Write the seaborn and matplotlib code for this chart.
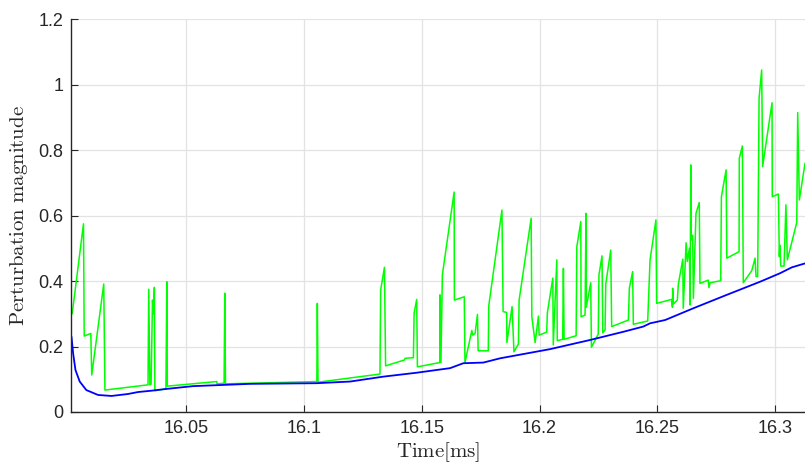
import numpy as np
import pandas as pd
import matplotlib
matplotlib.use("Agg")
import matplotlib.pyplot as plt
import seaborn as sns
from matplotlib.ticker import FuncFormatter

# ---- data ----
green_t = [16.0015, 16.0063, 16.0066, 16.0094, 16.0098, 16.0149, 16.0154, 16.0337, 16.0340, 16.0345,
           16.0350, 16.0356, 16.0360, 16.0364, 16.0366, 16.0413, 16.0417, 16.0419, 16.0629, 16.0630,
           16.0660, 16.0663, 16.0666, 16.1054, 16.1056, 16.1059, 16.1322, 16.1325, 16.1341, 16.1346,
           16.1426, 16.1429, 16.1464, 16.1467, 16.1478, 16.1481, 16.1576, 16.1577, 16.1581, 16.1587,
           16.1637, 16.1638, 16.1680, 16.1683, 16.1712, 16.1716, 16.1726, 16.1736, 16.1739, 16.1782,
           16.1784, 16.1840, 16.1845, 16.1860, 16.1861, 16.1883, 16.1891, 16.1910, 16.1913, 16.1964,
           16.1967, 16.1981, 16.1995, 16.1998, 16.2030, 16.2033, 16.2056, 16.2058, 16.2073, 16.2075,
           16.2098, 16.2101, 16.2104, 16.2155, 16.2158, 16.2175, 16.2176, 16.2193, 16.2197, 16.2198,
           16.2217, 16.2220, 16.2249, 16.2252, 16.2265, 16.2268, 16.2278, 16.2281, 16.2302, 16.2306,
           16.2377, 16.2381, 16.2395, 16.2398, 16.2459, 16.2469, 16.2494, 16.2497, 16.2561, 16.2564,
           16.2565, 16.2568, 16.2585, 16.2589, 16.2608, 16.2610, 16.2622, 16.2627, 16.2636, 16.2639,
           16.2642, 16.2644, 16.2650, 16.2653, 16.2664, 16.2678, 16.2681, 16.2716, 16.2719, 16.2724,
           16.2769, 16.2772, 16.2792, 16.2795, 16.2847, 16.2848, 16.2861, 16.2865, 16.2901, 16.2915,
           16.2919, 16.2926, 16.2932, 16.2943, 16.2947, 16.2987, 16.2988, 16.3014, 16.3018, 16.3020,
           16.3024, 16.3038, 16.3046, 16.3052, 16.3092, 16.3096, 16.3103, 16.3127]
green_v = [0.300, 0.575, 0.232, 0.240, 0.113, 0.391, 0.067, 0.083, 0.375, 0.083,
           0.085, 0.342, 0.300, 0.381, 0.065, 0.071, 0.398, 0.079, 0.093, 0.086,
           0.088, 0.363, 0.086, 0.093, 0.332, 0.091, 0.116, 0.373, 0.442, 0.141,
           0.159, 0.164, 0.166, 0.302, 0.344, 0.138, 0.151, 0.358, 0.151, 0.419,
           0.672, 0.342, 0.352, 0.151, 0.249, 0.235, 0.240, 0.298, 0.187, 0.187,
           0.324, 0.617, 0.307, 0.304, 0.212, 0.322, 0.184, 0.208, 0.342, 0.592,
           0.291, 0.212, 0.293, 0.235, 0.244, 0.304, 0.409, 0.205, 0.465, 0.218,
           0.222, 0.439, 0.222, 0.233, 0.505, 0.582, 0.291, 0.296, 0.607, 0.320,
           0.395, 0.198, 0.238, 0.419, 0.477, 0.242, 0.251, 0.391, 0.495, 0.261,
           0.281, 0.378, 0.429, 0.268, 0.278, 0.465, 0.587, 0.332, 0.344, 0.320,
           0.378, 0.330, 0.342, 0.390, 0.467, 0.317, 0.517, 0.460, 0.500, 0.327,
           0.755, 0.526, 0.540, 0.347, 0.607, 0.640, 0.393, 0.403, 0.380, 0.395,
           0.401, 0.658, 0.740, 0.470, 0.490, 0.775, 0.813, 0.395, 0.432, 0.470,
           0.414, 0.414, 0.959, 1.045, 0.750, 0.945, 0.658, 0.666, 0.475, 0.510,
           0.446, 0.446, 0.633, 0.465, 0.579, 0.915, 0.648, 0.760]

blue_t = [16.0012, 16.0019, 16.0029, 16.0047, 16.0075, 16.0125, 16.0182, 16.0252, 16.0295, 16.0351,
          16.0422, 16.0528, 16.0770, 16.1054, 16.1195, 16.1336, 16.1478, 16.1620, 16.1676, 16.1761,
          16.1832, 16.2044, 16.2214, 16.2355, 16.2440, 16.2469, 16.2533, 16.2653, 16.2795, 16.2936,
          16.3021, 16.3071, 16.3127]
blue_v = [0.230, 0.179, 0.128, 0.093, 0.067, 0.052, 0.049, 0.055, 0.061, 0.065,
          0.071, 0.079, 0.086, 0.088, 0.093, 0.108, 0.120, 0.134, 0.149, 0.151,
          0.164, 0.192, 0.220, 0.245, 0.261, 0.271, 0.281, 0.317, 0.358, 0.398,
          0.424, 0.442, 0.454]

x_ticks = [16.05, 16.1, 16.15, 16.2, 16.25, 16.3]
y_ticks = [0, 0.2, 0.4, 0.6, 0.8, 1.0, 1.2]

# ---- style ----
sns.set_theme(style="whitegrid")
plt.rcParams["font.family"] = ["Liberation Sans", "DejaVu Sans"]
plt.rcParams["mathtext.fontset"] = "cm"

fig = plt.figure(figsize=(8.05, 4.66), dpi=100)
ax = fig.add_axes([0.0888, 0.1159, 0.9112, 0.8427])

green_df = pd.DataFrame({"t": green_t, "v": green_v})
blue_df = pd.DataFrame({"t": blue_t, "v": blue_v})

sns.lineplot(data=green_df, x="t", y="v", ax=ax, color=(0, 1, 0), linewidth=1.1,
             sort=False, estimator=None)
sns.lineplot(data=blue_df, x="t", y="v", ax=ax, color=(0, 0, 1), linewidth=1.3,
             sort=False, estimator=None)

ax.set_xlim(16.0012, 16.3127)
ax.set_ylim(0, 1.2)
ax.set_xticks(x_ticks)
ax.set_yticks(y_ticks)
fmt = FuncFormatter(lambda v, p: "%g" % round(v, 4))
ax.xaxis.set_major_formatter(fmt)
ax.yaxis.set_major_formatter(fmt)

ax.set_facecolor("white")
ax.grid(True, color="#e3e3e3", linewidth=0.9)
ax.set_axisbelow(True)
for s in ["top", "right"]:
    ax.spines[s].set_visible(False)
for s in ["left", "bottom"]:
    ax.spines[s].set_color("#262626")
    ax.spines[s].set_linewidth(1.0)
ax.tick_params(axis="both", direction="in", length=5, width=0.8, color="#262626",
               labelsize=13, labelcolor="#262626", pad=6)
ax.tick_params(axis="both", which="both", bottom=True, left=True)

ax.set_xlabel(r"$\mathrm{Time[ms]}$", fontsize=15, color="#262626", labelpad=2)
ax.set_ylabel(r"$\mathrm{Perturbation\ magnitude}$", fontsize=15, color="#262626", labelpad=6)

fig.savefig("out.png", dpi=100)
